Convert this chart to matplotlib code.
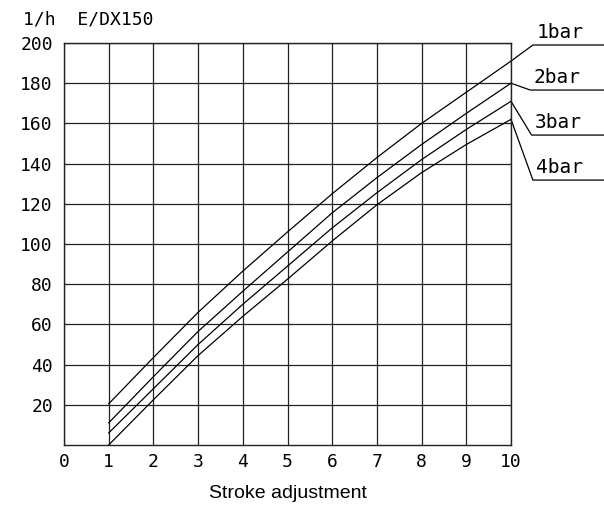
import numpy as np
import matplotlib
matplotlib.use("Agg")
import matplotlib.pyplot as plt

# ===== Data =====
stroke = [1, 2, 3, 4, 5, 6, 7, 8, 9, 10]
flow_1bar = [20.5, 43.5, 66, 86.5, 106, 125, 143, 160, 175.5, 191]
flow_2bar = [11, 34, 56.5, 76.5, 96, 115.5, 133, 149.5, 165, 180]
flow_3bar = [6, 28, 50, 70, 89, 108, 125.5, 142, 157, 171]
flow_4bar = [0, 22.5, 44.5, 64, 82.5, 101.5, 119.5, 135.5, 149.5, 162]
series_labels = ["1bar", "2bar", "3bar", "4bar"]
xticks = list(range(0, 11))
yticks = list(range(20, 201, 20))

# label placement (underline levels in data units)
label_levels = [199, 176.6, 154.2, 131.8]
leader_x = [10.49, 10.43, 10.46, 10.49]

cad_font = "DejaVu Sans Mono"

# ===== Plotting =====
fig = plt.figure(figsize=(6.04, 5.18), dpi=100)
ax = fig.add_axes([64 / 604, 73 / 518, 447 / 604, 402 / 518])

ax.set_xlim(0, 10)
ax.set_ylim(0, 200)
ax.set_xticks(xticks)
ax.set_yticks(yticks)
ax.set_xticklabels([str(t) for t in xticks], family=cad_font, fontsize=13)
ax.set_yticklabels([str(t) for t in yticks], family=cad_font, fontsize=13)
ax.tick_params(length=0)
ax.tick_params(axis="x", pad=6)
ax.tick_params(axis="y", pad=8)
ax.grid(True, color="#222222", linewidth=0.9)
for sp in ax.spines.values():
    sp.set_linewidth(1.0)
    sp.set_color("#222222")

all_flows = [flow_1bar, flow_2bar, flow_3bar, flow_4bar]
for flows, lab, lev, lx in zip(all_flows, series_labels, label_levels, leader_x):
    ax.plot(stroke, flows, color="black", linewidth=0.9)
    # leader line + underline to the label
    ax.plot([stroke[-1], lx, 12.2], [flows[-1], lev, lev], color="black",
            linewidth=0.9, clip_on=False)
    ax.text(lx + 0.08, lev + 1.5, lab, family=cad_font, fontsize=14,
            ha="left", va="bottom", clip_on=False)

fig.text(23 / 604, 1 - 20 / 518, "1/h  E/DX150", family=cad_font, fontsize=13,
         ha="left", va="center")

ax.set_xlabel("Stroke adjustment", family="Liberation Sans", fontsize=14)
ax.xaxis.set_label_coords(0.5, -0.1)

fig.savefig("out.png", dpi=100)
